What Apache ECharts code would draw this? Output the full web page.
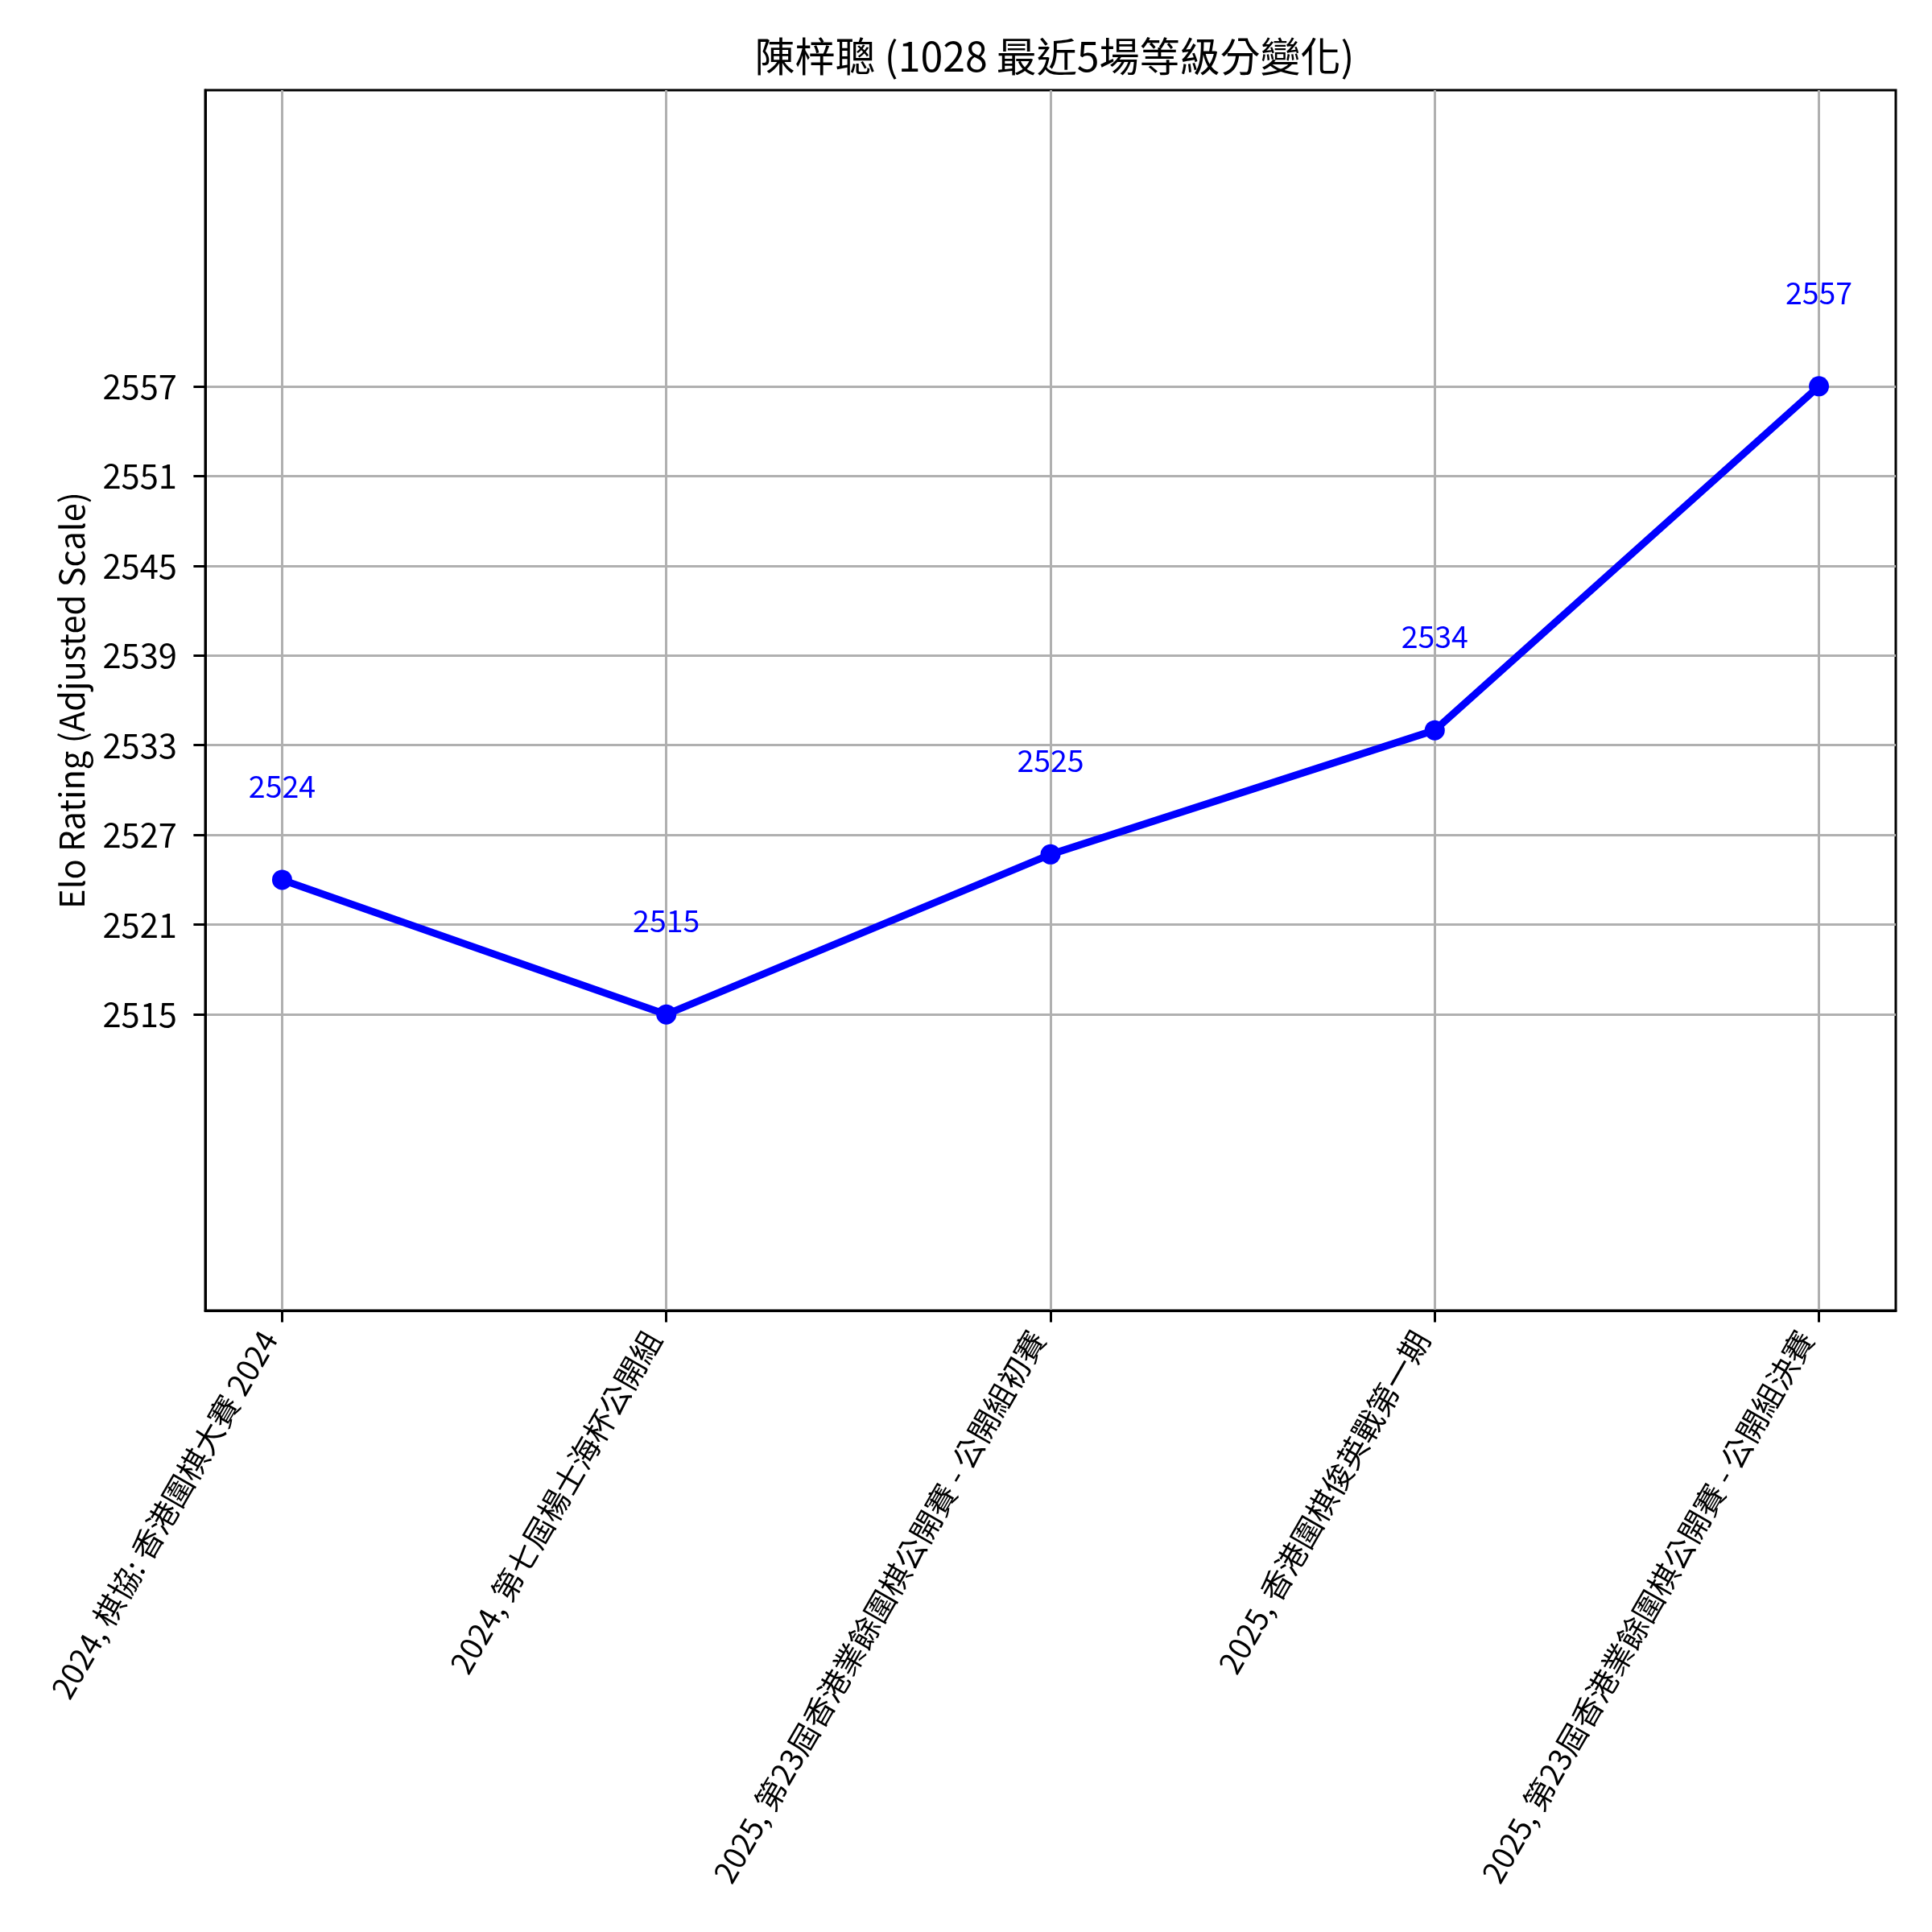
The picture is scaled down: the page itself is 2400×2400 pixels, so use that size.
<!DOCTYPE html>
<html>
<head>
<meta charset="utf-8">
<script src="https://cdn.jsdelivr.net/npm/echarts@6/dist/echarts.min.js"></script>
<style>
html,body{margin:0;padding:0;background:#fff;}
#chart{width:2400px;height:2400px;}
</style>
</head>
<body>
<div id="chart"></div>
<script>
const titleText = "陳梓聰 (1028 最近5場等級分變化)";
const yAxisName = "Elo Rating (Adjusted Scale)";
const categories = [
  "2024, 棋協: 香港圍棋大賽 2024",
  "2024, 第七屆楊士海杯公開組",
  "2025, 第23屆香港業餘圍棋公開賽 - 公開組初賽",
  "2025, 香港圍棋俊英戰第一期",
  "2025, 第23屆香港業餘圍棋公開賽 - 公開組決賽"
];
const ratings = [2524, 2515, 2525.7, 2534, 2557];
const pointLabels = ["2524", "2515", "2525", "2534", "2557"];
const yTicks = [2515, 2521, 2527, 2533, 2539, 2545, 2551, 2557];
const yMin = 2495.2;
const yMax = 2576.8;

const xIdx = categories.map((c, i) => i);
const seriesData = ratings.map((v, i) => [xIdx[i], v]);

const FONT = '"Noto Sans CJK TC", "Noto Sans", sans-serif';
const chart = echarts.init(document.getElementById('chart'), null, {renderer: 'canvas'});
chart.setOption({
  animation: false,
  backgroundColor: '#fff',
  textStyle: {fontFamily: FONT},
  title: {
    text: titleText,
    left: 1305,
    top: 40,
    textAlign: 'center',
    textStyle: {fontFamily: FONT, fontSize: 50, fontWeight: 'normal', color: '#000'}
  },
  grid: {
    left: 255, right: 45, top: 112, bottom: 772,
    show: true, borderColor: '#000', borderWidth: 3, backgroundColor: 'transparent',
    containLabel: false,
    outerBoundsMode: 'none'
  },
  xAxis: {
    type: 'value',
    min: -0.2,
    max: 4.2,
    axisLine: {show: true, onZero: false, lineStyle: {color: '#000', width: 3}},
    axisTick: {show: true, length: 14.6, lineStyle: {color: '#000', width: 3}, customValues: xIdx},
    splitLine: {show: true, lineStyle: {color: '#b0b0b0', width: 3}},
    axisLabel: {
      customValues: xIdx,
      formatter: (v) => categories[Math.round(v)],
      rotate: 60,
      align: 'right',
      verticalAlign: 'bottom',
      margin: 38,
      fontSize: 38,
      fontFamily: FONT,
      color: '#000'
    }
  },
  yAxis: {
    type: 'value',
    min: yMin,
    max: yMax,
    name: yAxisName,
    nameLocation: 'middle',
    nameRotate: 90,
    nameGap: 145,
    nameTextStyle: {fontSize: 41.7, fontFamily: FONT, color: '#000'},
    axisLine: {show: true, onZero: false, lineStyle: {color: '#000', width: 3}},
    axisTick: {show: true, length: 14.6, lineStyle: {color: '#000', width: 3}, customValues: yTicks},
    splitLine: {show: true, lineStyle: {color: '#b0b0b0', width: 3}},
    axisLabel: {
      customValues: yTicks,
      formatter: (v) => String(v),
      margin: 35,
      fontSize: 41.7,
      fontFamily: FONT,
      color: '#000'
    }
  },
  series: [{
    type: 'line',
    data: seriesData,
    symbol: 'circle',
    symbolSize: 25,
    lineStyle: {color: '#0000ff', width: 9},
    itemStyle: {color: '#0000ff'},
    label: {
      show: true,
      position: 'top',
      distance: 85,
      formatter: (p) => pointLabels[p.dataIndex],
      color: '#0000ff',
      fontSize: 37.5,
      fontFamily: FONT
    },
    z: 3
  }]
});
</script>
</body>
</html>
